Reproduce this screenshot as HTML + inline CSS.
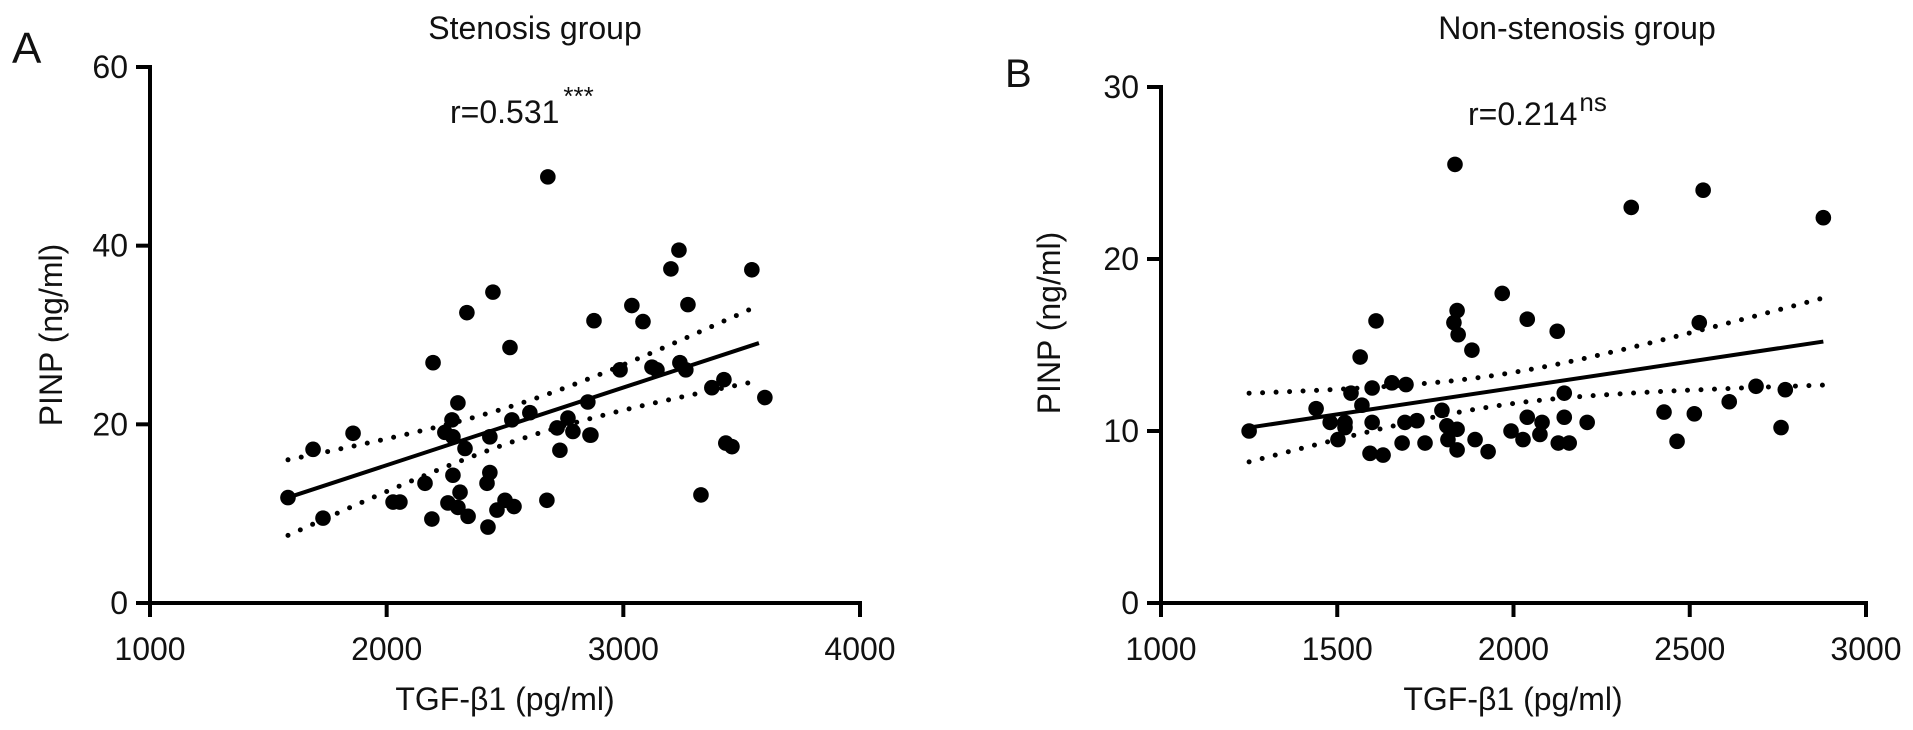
<!DOCTYPE html>
<html><head><meta charset="utf-8"><style>
html,body{margin:0;padding:0;background:#fff;}
svg{display:block;font-family:"Liberation Sans",sans-serif;}
</style></head><body>
<svg id="chart" width="1913" height="730" viewBox="0 0 1913 730" xmlns="http://www.w3.org/2000/svg"></svg>
<script>
// Panel A data (Stenosis group)
const aX = [1583,1689,1858,1731,2027,2056,2162,2191,2246,2276,2301,2280,2331,2280,2310,2259,2301,2344,2436,2436,2424,2428,2466,2500,2538,2529,2605,2677,2720,2766,2787,2732,2859,2850,2681,2449,2339,2521,2196,3036,3083,3273,2876,2986,3121,3142,3239,3264,3425,3374,3598,2863,3433,3459,3328,3235,3201,3543];
const aY = [11.8,17.2,19.0,9.5,11.3,11.3,13.4,9.4,19.1,20.5,22.4,18.6,17.3,14.3,12.4,11.2,10.7,9.7,18.6,14.6,13.4,8.5,10.4,11.5,10.8,20.5,21.3,11.5,19.6,20.7,19.2,17.1,18.8,22.5,47.7,34.8,32.5,28.6,26.9,33.3,31.5,33.4,31.6,26.1,26.4,26.1,26.9,26.1,25.0,24.1,23.0,18.8,17.9,17.5,12.1,39.5,37.4,37.3];
const aFit = [1583,11.8,3573,29.1];      // x0,y0,x1,y1 of regression line
const aCI = [2580,4.0,1.4e-5];          // mean x, a, b of CI half-width sqrt(a+b*dx^2)
const aXTicks = [1000,2000,3000,4000];
const aYTicks = [0,20,40,60];

// Panel B data (Non-stenosis group)
const bX = [1250,1440,1480,1522,1522,1502,1539,1570,1565,1610,1599,1599,1593,1630,1655,1695,1684,1692,1726,1749,1797,1811,1840,1814,1840,1840,1831,1843,1882,1891,1928,1968,2039,1993,2027,2039,2334,2538,2879,2124,2527,2144,2144,2081,2075,2127,2158,2209,2427,2513,2464,2612,2688,2771,2759,1834];
const bY = [10.0,11.3,10.5,10.5,10.2,9.5,12.2,11.5,14.3,16.4,12.5,10.5,8.7,8.6,12.8,12.7,9.3,10.5,10.6,9.3,11.2,10.3,10.1,9.5,8.9,17.0,16.3,15.6,14.7,9.5,8.8,18.0,16.5,10.0,9.5,10.8,23.0,24.0,22.4,15.8,16.3,12.2,10.8,10.5,9.8,9.3,9.3,10.5,11.1,11.0,9.4,11.7,12.6,12.4,10.2,25.5];
const bFit = [1250,10.2,2879,15.2];
const bCI = [1950,0.8,6.5e-6];
const bXTicks = [1000,1500,2000,2500,3000];
const bYTicks = [0,10,20,30];

const NS='http://www.w3.org/2000/svg';
const svg=document.getElementById('chart');
function mk(tag,attrs,parent){const e=document.createElementNS(NS,tag);for(const k in attrs)e.setAttribute(k,attrs[k]);(parent||svg).appendChild(e);return e;}

function panel(cfg){
  const g=mk('g',{});
  
  
  const sx=v=>cfg.px0+(v-cfg.xmin)/(cfg.xmax-cfg.xmin)*(cfg.px1-cfg.px0);
  const sy=v=>cfg.py0-(v-cfg.ymin)/(cfg.ymax-cfg.ymin)*(cfg.py0-cfg.py1);
  // axes
  const ya=mk('line',{x1:cfg.px0,y1:cfg.py0+2,x2:cfg.px0,y2:sy(cfg.ymax)-2,stroke:'#000','stroke-width':4},g);
  
  
  const xa=mk('line',{x1:cfg.px0-12,y1:cfg.py0,x2:sx(cfg.xmax)+2,y2:cfg.py0,stroke:'#000','stroke-width':4},g);
  
  
  cfg.xt.forEach(v=>{
    const t=mk('line',{x1:sx(v),y1:cfg.py0,x2:sx(v),y2:cfg.py0+14,stroke:'#000','stroke-width':4},g);
    
    
    const l=mk('text',{x:sx(v),y:cfg.py0+57,'text-anchor':'middle','font-size':32,fill:'#111'},g);
    l.textContent=v;
    
    
  });
  cfg.yt.forEach(v=>{
    const t=mk('line',{x1:cfg.px0-14,y1:sy(v),x2:cfg.px0,y2:sy(v),stroke:'#000','stroke-width':4},g);
    
    
    const l=mk('text',{x:cfg.px0-22,y:sy(v)+11,'text-anchor':'end','font-size':32,fill:'#111'},g);
    l.textContent=v;
    
    
  });
  // fit line
  const f=cfg.fit;
  const fl=mk('line',{x1:sx(f[0]),y1:sy(f[1]),x2:sx(f[2]),y2:sy(f[3]),stroke:'#000','stroke-width':4},g);
  
  
  const slope=(f[3]-f[1])/(f[2]-f[0]);
  const fy=x=>f[1]+slope*(x-f[0]);
  const hw=x=>Math.sqrt(cfg.ci[1]+cfg.ci[2]*(x-cfg.ci[0])*(x-cfg.ci[0]));
  [1,-1].forEach(s=>{
    let d='';
    for(let i=0;i<=40;i++){const x=f[0]+(f[2]-f[0])*i/40;d+=(i?'L':'M')+sx(x).toFixed(1)+','+sy(fy(x)+s*hw(x)).toFixed(1);}
    const p=mk('path',{d:d,fill:'none',stroke:'#000','stroke-width':5,'stroke-linecap':'round','stroke-dasharray':'0 13.5'},g);
    
    
  });
  cfg.xs.forEach((x,i)=>{
    const c=mk('circle',{cx:sx(x),cy:sy(cfg.ys[i]),r:7.8,fill:'#000'},g);
    
    
  });
  return {sx,sy};
}

panel({name:'panel-a-stenosis',xmin:1000,xmax:4000,ymin:0,ymax:60,px0:150,px1:860,py0:603,py1:67,xt:aXTicks,yt:aYTicks,fit:aFit,ci:aCI,xs:aX,ys:aY});
panel({name:'panel-b-non-stenosis',xmin:1000,xmax:3000,ymin:0,ymax:30,px0:1161,px1:1866,py0:603,py1:87,xt:bXTicks,yt:bYTicks,fit:bFit,ci:bCI,xs:bX,ys:bY});

function txt(s,attrs,name){const t=mk('text',attrs);t.textContent=s;return t;}
txt('A',{x:12,y:63,'font-size':44,fill:'#111'},'panel-a-label');
txt('B',{x:1005,y:87,'font-size':40,fill:'#111'},'panel-b-label');
txt('Stenosis group',{x:535,y:39,'text-anchor':'middle','font-size':32,fill:'#111'},'panel-a-title');
txt('Non-stenosis group',{x:1577,y:39,'text-anchor':'middle','font-size':32,fill:'#111'},'panel-b-title');
txt('TGF-β1 (pg/ml)',{x:505,y:710,'text-anchor':'middle','font-size':32,fill:'#111'},'panel-a-x-axis-title');
txt('TGF-β1 (pg/ml)',{x:1513,y:710,'text-anchor':'middle','font-size':32,fill:'#111'},'panel-b-x-axis-title');
txt('PINP (ng/ml)',{x:0,y:0,'text-anchor':'middle','font-size':32,fill:'#111',transform:'translate(62,335) rotate(-90)'},'panel-a-y-axis-title');
txt('PINP (ng/ml)',{x:0,y:0,'text-anchor':'middle','font-size':32,fill:'#111',transform:'translate(1060,323) rotate(-90)'},'panel-b-y-axis-title');
const ra=txt('r=0.531',{x:450,y:123,'font-size':32,fill:'#111'},'panel-a-correlation');
const sa=mk('tspan',{dx:4,dy:-18,'font-size':26});sa.textContent='***';ra.appendChild(sa);
const rb=txt('r=0.214',{x:1468,y:125,'font-size':32,fill:'#111'},'panel-b-correlation');
const sb=mk('tspan',{dx:2,dy:-14,'font-size':26});sb.textContent='ns';rb.appendChild(sb);
</script>
</body></html>
